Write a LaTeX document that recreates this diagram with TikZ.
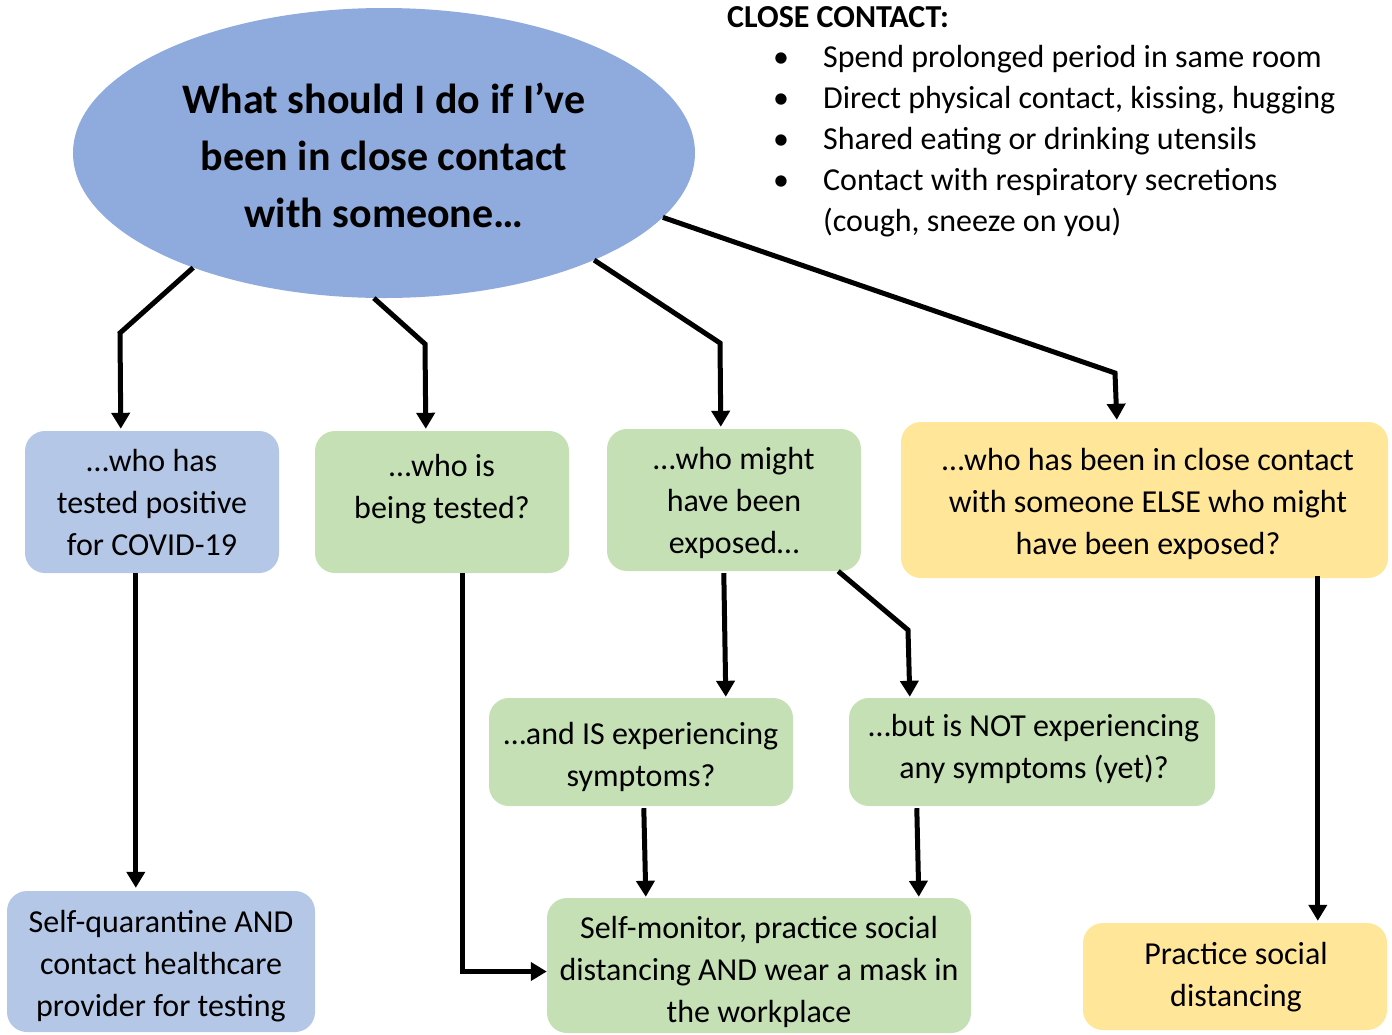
\documentclass[tikz,border=0pt]{standalone}
\usepackage{fontspec}
\setmainfont{Carlito}
\usetikzlibrary{arrows.meta,shapes.geometric,calc}
\definecolor{ellblue}{HTML}{8FAADC}
\definecolor{boxblue}{HTML}{B4C7E7}
\definecolor{boxgreen}{HTML}{C5E0B4}
\definecolor{boxyellow}{HTML}{FFE699}
\tikzset{
  box/.style={rectangle, rounded corners=20pt, inner sep=0pt},
  boxtext/.style={inner sep=0pt, align=center, font=\fontsize{32}{42}\selectfont},
  conn/.style={line width=5pt, -{Triangle[width=18pt,length=16pt]}},
}
\begin{document}
\begin{tikzpicture}[x=1pt,y=-1pt]
\useasboundingbox (0,0) rectangle (1392,1034);

% question ellipse
\node[ellipse, fill=ellblue, minimum width=622pt, minimum height=290pt, inner sep=0pt] (Q) at (384,153) {};
\node[inner sep=0pt, align=center, font=\fontsize{42}{57}\selectfont\bfseries] (Qt) at (384,155)
      {What should I do if I’ve\\been in close contact\\with someone…};

% close contact list
\node[anchor=base west, inner sep=0pt, font=\fontsize{32}{40.8}\selectfont] (CC) at (727,27)
{\begin{tabular}[t]{@{}l@{}l@{}}
\multicolumn{2}{@{}l@{}}{\bfseries CLOSE CONTACT:}\\
\makebox[96pt][l]{\hspace*{46pt}•} & Spend prolonged period in same room\\
\makebox[96pt][l]{\hspace*{46pt}•} & Direct physical contact, kissing, hugging\\
\makebox[96pt][l]{\hspace*{46pt}•} & Shared eating or drinking utensils\\
\makebox[96pt][l]{\hspace*{46pt}•} & Contact with respiratory secretions\\
 & (cough, sneeze on you)
\end{tabular}};

% boxes
\node[box, fill=boxblue, minimum width=254pt, minimum height=142pt] (A) at (152,502) {};
\node[boxtext] (At) at (152,502) {…who has\\tested positive\\for COVID-19};
\node[box, fill=boxgreen, minimum width=254pt, minimum height=142pt] (B) at (442,502) {};
\node[boxtext] (Bt) at (442,489) {…who is\\being tested?};
\node[box, fill=boxgreen, minimum width=254pt, minimum height=142pt] (C) at (734,500) {};
\node[boxtext] (Ct) at (734,503) {…who might\\have been\\exposed…};
\node[box, fill=boxyellow, minimum width=487pt, minimum height=156pt] (D) at (1144.5,500) {};
\node[boxtext] (Dt) at (1148,504) {…who has been in close contact\\with someone ELSE who might\\have been exposed?};
\node[box, fill=boxgreen, minimum width=304pt, minimum height=108pt] (E) at (641,752) {};
\node[boxtext] (Et) at (641,757) {…and IS experiencing\\symptoms?};
\node[box, fill=boxgreen, minimum width=366pt, minimum height=108pt] (F) at (1032,752) {};
\node[boxtext] (Ft) at (1034,749) {…but is NOT experiencing\\any symptoms (yet)?};
\node[box, fill=boxblue, minimum width=308pt, minimum height=141pt] (G) at (161,961.5) {};
\node[boxtext] (Gt) at (161,966.5) {Self-quarantine AND\\contact healthcare\\provider for testing};
\node[box, fill=boxgreen, minimum width=424pt, minimum height=135pt] (H) at (759,965.5) {};
\node[boxtext] (Ht) at (759,971.5) {Self-monitor, practice social\\distancing AND wear a mask in\\the workplace};
\node[box, fill=boxyellow, minimum width=304pt, minimum height=107pt] (I) at (1235,976.5) {};
\node[boxtext] (It) at (1236,977) {Practice social\\distancing};

% connectors
\draw[conn] (Q.211) -- (120,333) -- ($(A.north west)+(96,-2)$);
\draw[conn] (Q.266) -- (425,344) -- ($(B.north west)+(111,-2)$);
\draw[conn] (Q.333.7) -- (720,343) -- ($(C.north west)+(114,-2)$);
\draw[conn] (Q.-13.6) -- (1115,373) -- ($(D.north west)+(216,-2)$);
\draw[conn] ($(A.south west)+(111,0)$) -- ($(G.north west)+(129,-3)$);
\draw[conn] ($(B.south west)+(148,0)$) |- ($(H.west)+(0,6)$);
\draw[conn] ($(C.south west)+(117,2)$) -- ($(E.north west)+(237,-1)$);
\draw[conn] ($(C.south east)+(-23,0)$) -- (908,630) -- ($(F.north west)+(61,-1)$);
\draw[conn] ($(E.south west)+(155,2)$) -- ($(H.north west)+(99,-1)$);
\draw[conn] ($(F.south west)+(68,2)$) -- ($(H.north west)+(372,-1)$);
\draw[conn] ($(D.south west)+(417,-2)$) -- ($(I.north west)+(235,-2)$);
\end{tikzpicture}
\end{document}
